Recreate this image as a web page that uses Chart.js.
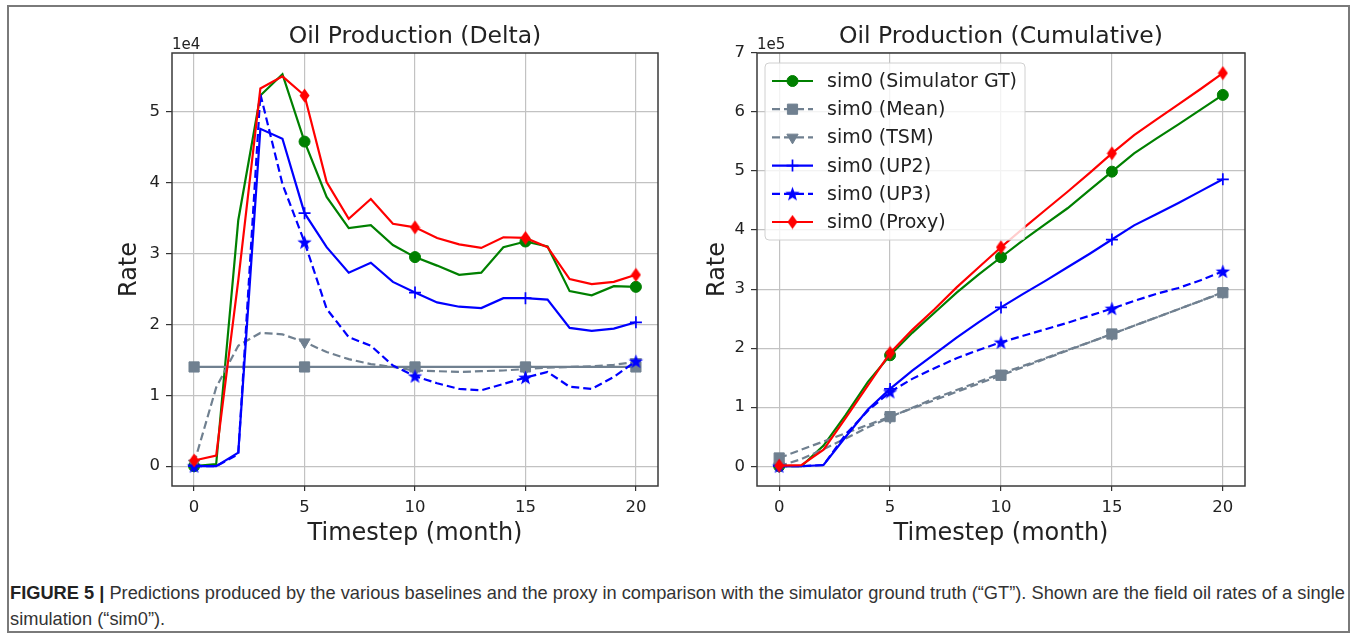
<!DOCTYPE html>
<html>
<head>
<meta charset="utf-8">
<title>Oil production predictions</title>
<script src="https://cdn.jsdelivr.net/npm/chart.js@4.4.1/dist/chart.umd.min.js"></script>
<style>
  html, body { margin: 0; padding: 0; background: #fff; }
  #fig { position: relative; width: 1357px; height: 639px; overflow: hidden; background: #fff; }
  #frame { position: absolute; left: 7px; top: 5px; width: 1343px; height: 628px;
           border: 2px solid #7a7a7a; box-sizing: border-box; }
  #deltaChart { position: absolute; left: 100px; top: 0; }
  #cumChart { position: absolute; left: 680px; top: 0; }
  #caption { position: absolute; left: 10px; top: 580px; white-space: nowrap;
             font-family: "Liberation Sans", Arial, sans-serif; font-size: 15.5px;
             line-height: 26px; color: #333; }
  #caption b { color: #222; }
</style>
</head>
<body>
<div id="fig">
  <div id="frame"></div>
  <canvas id="deltaChart" width="580" height="560"></canvas>
  <canvas id="cumChart" width="600" height="560"></canvas>
  <div id="caption"><span id="capLine1"><b>FIGURE 5 |</b> Predictions produced by the various baselines and the proxy in comparison with the simulator ground truth (“GT”). Shown are the field oil rates of a single</span><br>simulation (“sim0”).</div>
</div>
<script>
// ---- data -------------------------------------------------------------
const timesteps = [0, 1, 2, 3, 4, 5, 6, 7, 8, 9, 10, 11, 12, 13, 14, 15, 16, 17, 18, 19, 20];
const markedSteps = [0, 5, 10, 15, 20];
const xTicks = [0, 5, 10, 15, 20];
const deltaTicks = [0, 1, 2, 3, 4, 5];
const cumulativeTicks = [0, 1, 2, 3, 4, 5, 6, 7];

const seriesNames = ['sim0 (Simulator GT)', 'sim0 (Mean)', 'sim0 (TSM)', 'sim0 (UP2)', 'sim0 (UP3)', 'sim0 (Proxy)'];

// monthly field oil rate, in units of 1e4
const gtDelta    = [0.00, 0.03, 3.47, 5.23, 5.53, 4.58, 3.80, 3.36, 3.40, 3.12, 2.95, 2.83, 2.70, 2.73, 3.09, 3.17, 3.10, 2.47, 2.41, 2.54, 2.53];
const meanDelta  = [1.40, 1.40, 1.40, 1.40, 1.40, 1.40, 1.40, 1.40, 1.40, 1.40, 1.40, 1.40, 1.40, 1.40, 1.40, 1.40, 1.40, 1.40, 1.40, 1.40, 1.40];
const tsmDelta   = [0.04, 1.11, 1.70, 1.88, 1.86, 1.75, 1.61, 1.51, 1.44, 1.40, 1.35, 1.34, 1.33, 1.34, 1.35, 1.37, 1.39, 1.40, 1.41, 1.43, 1.47];
const up2Delta   = [0.00, 0.00, 0.19, 4.76, 4.62, 3.57, 3.09, 2.73, 2.87, 2.60, 2.45, 2.31, 2.25, 2.23, 2.37, 2.37, 2.35, 1.95, 1.91, 1.94, 2.03];
const up3Delta   = [0.00, 0.00, 0.17, 5.25, 3.98, 3.16, 2.22, 1.82, 1.70, 1.42, 1.27, 1.17, 1.09, 1.07, 1.16, 1.25, 1.33, 1.12, 1.09, 1.26, 1.48];
const proxyDelta = [0.08, 0.15, 2.62, 5.33, 5.50, 5.23, 4.01, 3.49, 3.77, 3.42, 3.37, 3.22, 3.13, 3.08, 3.23, 3.22, 3.09, 2.64, 2.57, 2.60, 2.70];

// cumulative field oil production, in units of 1e5
const gtCum    = [0.00, 0.00, 0.35, 0.87, 1.43, 1.88, 2.26, 2.60, 2.94, 3.25, 3.54, 3.83, 4.10, 4.37, 4.68, 4.99, 5.30, 5.55, 5.79, 6.04, 6.29];
const meanCum  = [0.14, 0.28, 0.42, 0.56, 0.70, 0.84, 0.98, 1.12, 1.26, 1.40, 1.54, 1.68, 1.82, 1.96, 2.10, 2.24, 2.38, 2.52, 2.66, 2.80, 2.94];
const tsmCum   = [0.00, 0.12, 0.29, 0.47, 0.66, 0.83, 0.99, 1.15, 1.29, 1.43, 1.57, 1.70, 1.83, 1.97, 2.10, 2.24, 2.38, 2.52, 2.66, 2.80, 2.95];
const up2Cum   = [0.00, 0.00, 0.02, 0.50, 0.96, 1.31, 1.62, 1.90, 2.18, 2.44, 2.69, 2.92, 3.14, 3.37, 3.60, 3.84, 4.08, 4.27, 4.46, 4.66, 4.86];
const up3Cum   = [0.00, 0.00, 0.02, 0.54, 0.94, 1.26, 1.48, 1.66, 1.83, 1.97, 2.10, 2.21, 2.32, 2.43, 2.55, 2.67, 2.80, 2.92, 3.02, 3.15, 3.30];
const proxyCum = [0.01, 0.02, 0.28, 0.82, 1.37, 1.92, 2.31, 2.66, 3.03, 3.37, 3.71, 4.03, 4.34, 4.65, 4.97, 5.30, 5.61, 5.87, 6.13, 6.39, 6.66];

// ---- styling ----------------------------------------------------------
const FONT = "'DejaVu Sans', sans-serif";
const TEXT = '#222';
const GREEN = '#008000', RED = '#ff0000', BLUE = '#0000ff', SLATE = '#708090';

function markerCanvas(w, h, draw) {
  const c = document.createElement('canvas');
  c.width = w; c.height = h;
  const g = c.getContext('2d');
  draw(g, w, h);
  return c;
}
// thin diamond
const diamondMarker = markerCanvas(11, 15, (g, w, h) => {
  g.fillStyle = RED;
  g.beginPath();
  g.moveTo(w / 2, 0.5); g.lineTo(w - 0.5, h / 2); g.lineTo(w / 2, h - 0.5); g.lineTo(0.5, h / 2);
  g.closePath(); g.fill();
});
// filled five-point star
const starMarker = markerCanvas(17, 17, (g, w, h) => {
  g.fillStyle = BLUE;
  g.beginPath();
  const cx = w / 2, cy = h / 2 + 0.6, R = 7.6, r = 3.1;
  for (let k = 0; k < 10; k++) {
    const a = -Math.PI / 2 + k * Math.PI / 5;
    const rad = k % 2 === 0 ? R : r;
    const px = cx + rad * Math.cos(a), py = cy + rad * Math.sin(a);
    if (k === 0) g.moveTo(px, py); else g.lineTo(px, py);
  }
  g.closePath(); g.fill();
});

const seriesStyles = [
  { color: GREEN, dash: [],     pointStyle: 'circle',   radius: 5.5, pointBorder: 1 },
  { color: SLATE, dash: [8, 4], pointStyle: 'rect',     radius: 7.2, pointBorder: 1 },
  { color: SLATE, dash: [8, 4], pointStyle: 'triangle', radius: 6.5, pointBorder: 1, rotation: 180 },
  { color: BLUE,  dash: [],     pointStyle: 'cross',    radius: 6,   pointBorder: 1.7 },
  { color: BLUE,  dash: [8, 4], pointStyle: starMarker, radius: 6,   pointBorder: 0 },
  { color: RED,   dash: [],     pointStyle: diamondMarker, radius: 6, pointBorder: 0 }
];

function buildDatasets(seriesList, dashOverride) {
  return seriesList.map((values, i) => {
    const st = seriesStyles[i];
    const dash = dashOverride && dashOverride[i] !== undefined ? dashOverride[i] : st.dash;
    return {
      label: seriesNames[i],
      data: timesteps.map((t, k) => ({ x: t, y: values[k] })),
      borderColor: st.color,
      backgroundColor: st.color,
      borderWidth: 2.2,
      borderDash: dash,
      tension: 0,
      fill: false,
      pointStyle: st.pointStyle,
      pointRotation: st.rotation || 0,
      pointRadius: ctx => markedSteps.includes(timesteps[ctx.dataIndex]) ? st.radius : 0,
      pointHoverRadius: 0,
      pointBackgroundColor: st.color,
      pointBorderColor: st.color,
      pointBorderWidth: st.pointBorder,
      order: seriesList.length - 1 - i
    };
  });
}

// axes frame, exponent label and (optionally) the in-plot legend
const decorPlugin = {
  id: 'decor',
  afterDatasetsDraw(chart, args, opts) {
    const ctx = chart.ctx;
    const a = chart.chartArea;
    ctx.save();
    ctx.strokeStyle = '#3a3a3a';
    ctx.lineWidth = 1.5;
    ctx.setLineDash([]);
    ctx.strokeRect(a.left, a.top, a.right - a.left, a.bottom - a.top);

    ctx.fillStyle = TEXT;
    ctx.font = '15px ' + FONT;
    ctx.textAlign = 'left';
    ctx.textBaseline = 'alphabetic';
    ctx.fillText(opts.exponent, a.left, 49);

    if (opts.legend) {
      const L = opts.legend;
      ctx.beginPath();
      ctx.roundRect(L.x, L.y, L.w, L.h, 4);
      ctx.fillStyle = 'rgba(255,255,255,0.8)';
      ctx.fill();
      ctx.strokeStyle = '#d0d0d0';
      ctx.lineWidth = 1;
      ctx.stroke();
      chart.data.datasets.forEach((ds, i) => {
        const st = seriesStyles[i];
        const y = L.firstRow + i * L.rowGap;
        ctx.strokeStyle = st.color;
        ctx.lineWidth = 2.2;
        ctx.setLineDash(ds.borderDash || []);
        ctx.beginPath();
        ctx.moveTo(L.lineX1, y); ctx.lineTo(L.lineX2, y);
        ctx.stroke();
        ctx.setLineDash([]);
        ctx.fillStyle = st.color;
        ctx.lineWidth = st.pointBorder;
        const mx = (L.lineX1 + L.lineX2) / 2;
        Chart.helpers.drawPoint(ctx, {
          pointStyle: st.pointStyle, rotation: st.rotation || 0,
          radius: st.radius, borderWidth: st.pointBorder
        }, mx, y);
        ctx.fillStyle = TEXT;
        ctx.font = '19px ' + FONT;
        ctx.textBaseline = 'middle';
        ctx.textAlign = 'left';
        ctx.fillText(ds.label, L.textX, y + 1);
      });
    }
    ctx.restore();
  }
};

function makeChart(canvasId, cfg) {
  return new Chart(document.getElementById(canvasId), {
    type: 'line',
    data: { datasets: cfg.datasets },
    plugins: [decorPlugin],
    options: {
      responsive: false,
      animation: false,
      events: [],
      layout: { padding: { left: 0, right: cfg.padRight, top: 0, bottom: 4 } },
      plugins: {
        legend: { display: false },
        tooltip: { enabled: false },
        title: {
          display: true, text: cfg.title, fullSize: false, color: TEXT,
          font: { family: FONT, size: 23.5, weight: 'normal', lineHeight: 1.2 },
          padding: { top: 22.7, bottom: 2.1 }
        },
        decor: { exponent: cfg.exponent, legend: cfg.legend || null }
      },
      scales: {
        x: {
          type: 'linear', min: -1, max: 21,
          afterBuildTicks: s => { s.ticks = xTicks.map(v => ({ value: v })); },
          afterFit: s => { s.height = 70; },
          ticks: { font: { family: FONT, size: 16.5 }, color: TEXT, padding: 7, maxRotation: 0, autoSkip: false,
                   callback: v => String(v) },
          grid: { color: '#c2c2c2', lineWidth: 1.2, tickColor: '#333', tickLength: 5, drawTicks: true },
          border: { display: false },
          title: { display: true, text: 'Timestep (month)', color: TEXT,
                   font: { family: FONT, size: 24, lineHeight: 1.2 }, padding: { top: 0, bottom: 7.8 } }
        },
        y: {
          type: 'linear', min: cfg.yMin, max: cfg.yMax,
          afterBuildTicks: s => { s.ticks = cfg.yTicks.map(v => ({ value: v })); },
          afterFit: s => { s.width = cfg.yWidth; },
          ticks: { font: { family: FONT, size: 16.5 }, color: TEXT, padding: 6, autoSkip: false,
                   callback: v => String(v) },
          grid: { color: '#c2c2c2', lineWidth: 1.2, tickColor: '#333', tickLength: 6, drawTicks: true },
          border: { display: false },
          title: { display: true, text: 'Rate', color: TEXT,
                   font: { family: FONT, size: 24, lineHeight: 1.2 }, padding: { top: cfg.rateTitlePad, bottom: 0 } }
        }
      }
    }
  });
}

makeChart('deltaChart', {
  title: 'Oil Production (Delta)',
  exponent: '1e4',
  datasets: buildDatasets([gtDelta, meanDelta, tsmDelta, up2Delta, up3Delta, proxyDelta], { 1: [] }),
  yMin: -0.28, yMax: 5.83, yTicks: deltaTicks,
  yWidth: 72, padRight: 22, rateTitlePad: 15.2
});

makeChart('cumChart', {
  title: 'Oil Production (Cumulative)',
  exponent: '1e5',
  datasets: buildDatasets([gtCum, meanCum, tsmCum, up2Cum, up3Cum, proxyCum]),
  yMin: -0.335, yMax: 7.0, yTicks: cumulativeTicks,
  yWidth: 77, padRight: 35, rateTitlePad: 23.4,
  legend: { x: 85, y: 63, w: 260, h: 177, firstRow: 81, rowGap: 28.2, lineX1: 92, lineX2: 133, textX: 147 }
});

// fit the first caption line to the figure width
(function fitCaption() {
  const cap = document.getElementById('caption');
  const line = document.getElementById('capLine1');
  const target = 1335;
  let size = 15.5;
  for (let k = 0; k < 4; k++) {
    const w = line.getBoundingClientRect().width;
    size = size * target / w;
    cap.style.fontSize = size.toFixed(2) + 'px';
  }
})();
</script>
</body>
</html>
